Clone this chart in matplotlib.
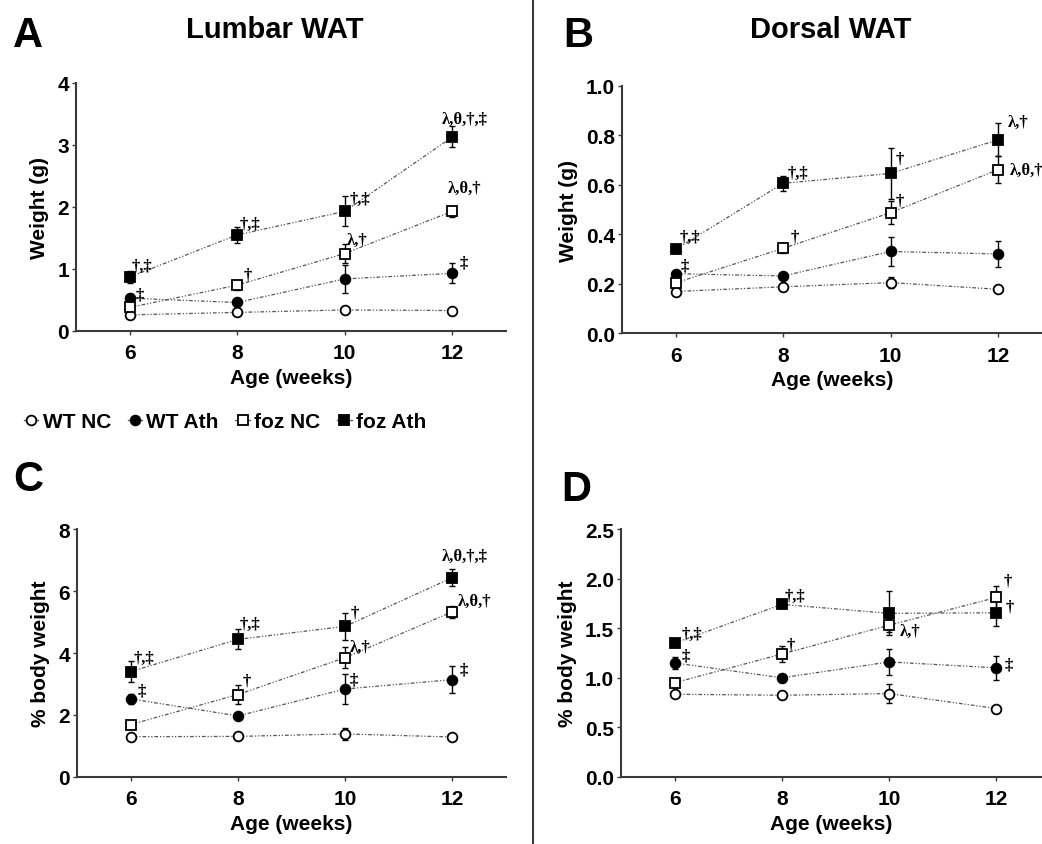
import matplotlib
matplotlib.use("Agg")
import matplotlib.pyplot as plt
from matplotlib.lines import Line2D
from matplotlib.ticker import FormatStrFormatter

plt.rcParams['font.family'] = ['Liberation Sans', 'DejaVu Sans']
plt.rcParams['font.weight'] = 'bold'

# data
weeks = [6, 8, 10, 12]
groups = ["WT NC", "WT Ath", "foz NC", "foz Ath"]

# A: lumbar WAT weight (g)
lumbar_g = [[0.26, 0.30, 0.34, 0.33],
            [0.53, 0.46, 0.84, 0.93],
            [0.38, 0.74, 1.25, 1.93],
            [0.87, 1.55, 1.93, 3.13]]
lumbar_g_err = [[0.04, 0.04, 0.05, 0.04],
                [0.07, 0.05, 0.22, 0.16],
                [0.06, 0.08, 0.16, 0.09],
                [0.10, 0.13, 0.24, 0.17]]

# B: dorsal WAT weight (g)
dorsal_g = [[0.168, 0.187, 0.204, 0.177],
            [0.240, 0.231, 0.330, 0.320],
            [0.203, 0.343, 0.487, 0.661],
            [0.339, 0.606, 0.646, 0.782]]
dorsal_g_err = [[0.010, 0.010, 0.022, 0.010],
                [0.012, 0.010, 0.058, 0.052],
                [0.015, 0.020, 0.047, 0.055],
                [0.015, 0.030, 0.102, 0.067]]

# C: lumbar WAT % body weight
lumbar_pct = [[1.30, 1.31, 1.39, 1.29],
              [2.52, 1.97, 2.84, 3.14],
              [1.69, 2.66, 3.85, 5.33],
              [3.40, 4.44, 4.86, 6.43]]
lumbar_pct_err = [[0.08, 0.08, 0.20, 0.08],
                  [0.17, 0.10, 0.48, 0.44],
                  [0.10, 0.32, 0.33, 0.20],
                  [0.33, 0.32, 0.44, 0.27]]

# D: dorsal WAT % body weight
dorsal_pct = [[0.834, 0.824, 0.841, 0.690],
              [1.15, 1.00, 1.16, 1.10],
              [0.95, 1.24, 1.53, 1.81],
              [1.35, 1.74, 1.65, 1.655]]
dorsal_pct_err = [[0.03, 0.03, 0.10, 0.03],
                  [0.06, 0.04, 0.13, 0.12],
                  [0.04, 0.08, 0.07, 0.12],
                  [0.04, 0.04, 0.22, 0.13]]

# significance marks: (group index, week index, text)
marks_A = [(3, 0, "†,‡"), (1, 0, "‡"), (3, 1, "†,‡"), (2, 1, "†"),
           (3, 2, "†,‡"), (2, 2, "λ,†"), (3, 3, "λ,θ,†,‡"), (2, 3, "λ,θ,†"),
           (1, 3, "‡")]
marks_B = [(3, 0, "†,‡"), (1, 0, "‡"), (3, 1, "†,‡"), (2, 1, "†"),
           (3, 2, "†"), (2, 2, "†"), (3, 3, "λ,†"), (2, 3, "λ,θ,†")]
marks_C = [(3, 0, "†,‡"), (1, 0, "‡"), (3, 1, "†,‡"), (2, 1, "†"),
           (3, 2, "†"), (2, 2, "λ,†"), (1, 2, "‡"), (3, 3, "λ,θ,†,‡"),
           (2, 3, "λ,θ,†"), (1, 3, "‡")]
marks_D = [(3, 0, "†,‡"), (1, 0, "‡"), (3, 1, "†,‡"), (2, 1, "†"),
           (2, 2, "λ,†"), (2, 3, "†"), (3, 3, "†"), (1, 3, "‡")]

# text offsets in pixels for the marks (same order as above)
offs_A = [(12, 11), (10, 4), (13, 11), (10, 11), (15, 12), (12, 14),
          (12, 18), (12, 23), (11, 11)]
offs_B = [(14, 12), (9, 8), (15, 10), (12, 12), (9, 15), (9, 12),
          (20, 18), (29, 0)]
offs_C = [(13, 14), (11, 8), (12, 15), (9, 14), (10, 14), (15, 11),
          (9, 9), (12, 22), (22, 11), (11, 10)]
offs_D = [(17, 9), (11, 7), (13, 9), (9, 9), (21, -6), (11, 17),
          (13, 6), (12, 3)]

W, H = 1042, 845
markers = ['o', 'o', 's', 's']
facecols = ['white', 'black', 'white', 'black']
line_style = (0, (3, 1.5, 1, 1.5, 1, 1.5))


def px_box(left, right, top, bottom):
    return [left / W, 1 - bottom / H, (right - left) / W, (bottom - top) / H]


def draw_panel(fig, box, xmax, vals, errs, ylim, yticks, ylabel, fmt, marks, offs):
    ax = fig.add_axes(box)
    for i in range(len(groups)):
        ax.plot(weeks, vals[i], linestyle=line_style, color='#555555', lw=0.9, zorder=1)
        ax.errorbar(weeks, vals[i], yerr=errs[i], fmt='none', ecolor='black',
                    elinewidth=1.0, capsize=2.5, capthick=1.0, zorder=2)
        ax.plot(weeks, vals[i], linestyle='none', marker=markers[i], ms=7,
                mfc=facecols[i], mec='black', mew=1.3, zorder=3)
    for (g, w, txt), (dx, dy) in zip(marks, offs):
        ax.annotate(txt, (weeks[w], vals[g][w]), xytext=(dx, dy),
                    textcoords='offset pixels', ha='center', va='center',
                    fontsize=12, fontweight='bold', family='Liberation Serif')
    ax.set_xlim(5, xmax)
    ax.set_ylim(*ylim)
    ax.set_xticks(weeks)
    ax.set_yticks(yticks)
    if fmt:
        ax.yaxis.set_major_formatter(FormatStrFormatter(fmt))
    for s in ['top', 'right']:
        ax.spines[s].set_visible(False)
    for s in ['left', 'bottom']:
        ax.spines[s].set_color('#3a3a3a')
        ax.spines[s].set_linewidth(1.5)
    ax.tick_params(axis='both', labelsize=15, width=1, length=3, color='#3a3a3a', pad=2)
    ax.tick_params(axis='x', pad=6)
    for lab in ax.get_xticklabels() + ax.get_yticklabels():
        lab.set_fontweight('bold')
    ax.set_xlabel("Age (weeks)", fontsize=15, fontweight='bold', labelpad=4)
    ax.set_ylabel(ylabel, fontsize=15, fontweight='bold', labelpad=6)
    return ax


fig = plt.figure(figsize=(W / 100, H / 100), dpi=100)

draw_panel(fig, px_box(76, 506, 84, 332), 13, lumbar_g, lumbar_g_err,
           (0, 4), [0, 1, 2, 3, 4], "Weight (g)", None, marks_A, offs_A)
draw_panel(fig, px_box(622, 1042, 87, 334), 12.82, dorsal_g, dorsal_g_err,
           (0, 1.0), [0, 0.2, 0.4, 0.6, 0.8, 1.0], "Weight (g)", '%.1f', marks_B, offs_B)
draw_panel(fig, px_box(77, 506, 530, 778), 13, lumbar_pct, lumbar_pct_err,
           (0, 8), [0, 2, 4, 6, 8], "% body weight", None, marks_C, offs_C)
draw_panel(fig, px_box(621, 1042, 530, 778), 12.85, dorsal_pct, dorsal_pct_err,
           (0, 2.5), [0, 0.5, 1.0, 1.5, 2.0, 2.5], "% body weight", '%.1f', marks_D, offs_D)

# divider
fig.add_artist(Line2D([533 / W, 533 / W], [0, 1], color='#3a3a3a', lw=1.5))

# titles and panel letters
fig.text(275 / W, 1 - 30 / H, "Lumbar WAT", ha='center', va='center', fontsize=21, fontweight='bold')
fig.text(831 / W, 1 - 30 / H, "Dorsal WAT", ha='center', va='center', fontsize=21, fontweight='bold')
for letter, x, y in [("A", 28, 36), ("B", 578, 36), ("C", 28, 480), ("D", 576, 490)]:
    fig.text(x / W, 1 - y / H, letter, ha='center', va='center', fontsize=30, fontweight='bold')

# legend
handles = [Line2D([], [], color='#555555', lw=0.9, marker=markers[i], ms=7,
                  mfc=facecols[i], mec='black', mew=1.3) for i in range(4)]
fig.legend(handles, groups, loc='center', bbox_to_anchor=(225 / W, 1 - 423 / H),
           ncol=4, frameon=False, prop={'size': 15, 'weight': 'bold'},
           handlelength=0.7, handletextpad=0.2, columnspacing=0.8, borderaxespad=0)

fig.savefig("out.png", dpi=100)
